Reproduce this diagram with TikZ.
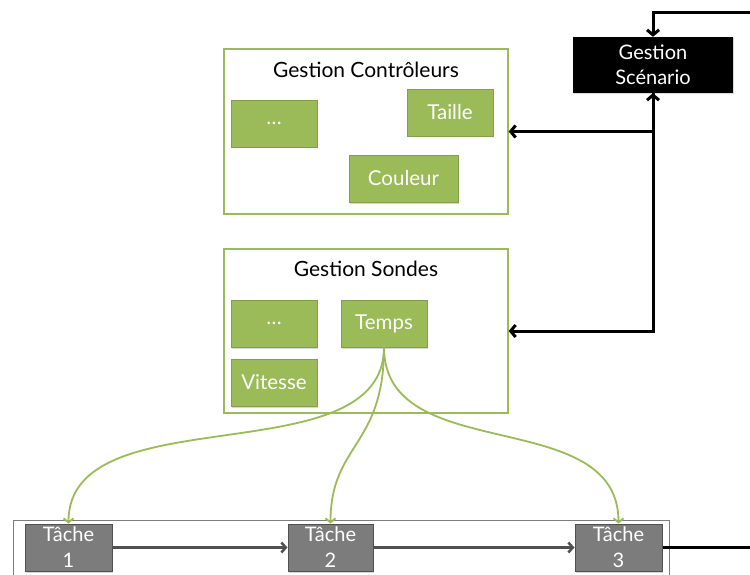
\documentclass[tikz,border=0pt]{standalone}
\usepackage{fontspec}
\setmainfont{Lato}
\usetikzlibrary{positioning,arrows.meta,shadows}

\definecolor{boxgreen}{RGB}{155,187,89}
\definecolor{boxgrey}{RGB}{124,124,124}
\definecolor{linegrey}{RGB}{80,80,80}

\tikzset{
  item/.style={draw=boxgreen!85!black, line width=0.6pt, fill=boxgreen, text=white,
    minimum height=47pt, inner sep=0pt, font=\fontsize{20.5}{25}\selectfont,
    drop shadow={shadow xshift=1pt, shadow yshift=-1.5pt, opacity=0.3}},
  group/.style={draw=boxgreen, line width=1.3pt, fill=white, inner sep=0pt},
  grouptitle/.style={font=\fontsize{21}{24}\selectfont, text=black},
  task/.style={draw=linegrey, line width=1pt, fill=boxgrey, text=white, align=center,
    minimum height=47pt, inner sep=0pt, font=\fontsize{20}{26}\selectfont,
    drop shadow={shadow xshift=1pt, shadow yshift=-1.5pt, opacity=0.3}},
  link/.style={-{Straight Barb[length=5pt,width=12pt]}, line width=3pt, black},
  flow/.style={-{Straight Barb[length=4.5pt,width=10pt]}, line width=2.5pt, linegrey},
  feed/.style={-{Straight Barb[length=4pt,width=10pt]}, line width=1.8pt, boxgreen}
}

\begin{document}
\begin{tikzpicture}[x=1pt, y=-1pt]

    \useasboundingbox (0,0) rectangle (750,575);

    % Scenario manager
    \node[fill=black, text=white, align=center, minimum width=160pt, minimum height=56pt,
      inner sep=0pt, font=\fontsize{20}{25}\selectfont,
      drop shadow={shadow xshift=1pt, shadow yshift=-1.5pt, opacity=0.3}]
      (scenario) at (653,65) {Gestion\\Scénario};

    % Controllers group
    \node[group, minimum width=284pt, minimum height=165pt] (ctrl) at (366,131.5) {};
    \node[grouptitle] (ctrlTitle) at (366,70) {Gestion Contrôleurs};
    \node[item, minimum width=86pt] (ctrlDots) at (274,123.5) {\ldots};
    \node[item, minimum width=86pt] (taille) at (450,112.5) {Taille};
    \node[item, minimum width=109pt] (couleur) at (403.5,178.5) {Couleur};

    % Probes group
    \node[group, minimum width=284pt, minimum height=164pt] (sondes) at (366,331) {};
    \node[grouptitle] (sondesTitle) at (366,269) {Gestion Sondes};
    \node[item, minimum width=86pt] (sondesDots) at (274,323.5) {\ldots};
    \node[item, minimum width=86pt] (temps) at (384,323.5) {Temps};
    \node[item, minimum width=86pt] (vitesse) at (274,382.5) {Vitesse};

    % Task chain
    \draw[draw=boxgrey, line width=1pt, fill=white] (13,520) rectangle (669,600);
    \node[task, minimum width=87pt] (tache1) at (68.5,547.5) {Tâche\\1};
    \node[task, minimum width=85pt] (tache2) at (330.5,547.5) {Tâche\\2};
    \node[task, minimum width=87pt] (tache3) at (618.5,547.5) {Tâche\\3};

    \draw[flow] (tache1) -- (tache2);
    \draw[flow] (tache2) -- (tache3);

    % Links with the scenario
    \coordinate (topRight) at (750,13);
    \coordinate (bottomRight) at (750,547.5);
    \draw[link] (topRight) -| (scenario.north);
    \draw[link] (scenario.south) |- (ctrl.east);
    \draw[link, {Straight Barb[length=5pt,width=12pt]}-{Straight Barb[length=5pt,width=12pt]}]
      (scenario.south) |- (sondes.east);
    \draw[line width=3pt] (tache3.east) -- (bottomRight);

    % Time probe feeding the tasks
    \draw[feed] (temps.south) .. controls +(0,130) and +(0,-130) .. (tache1.north);
    \draw[feed] (temps.south) .. controls +(0,100) and +(0,-80) .. (tache2.north);
    \draw[feed] (temps.south) .. controls +(0,120) and +(0,-120) .. (tache3.north);

\end{tikzpicture}
\end{document}
